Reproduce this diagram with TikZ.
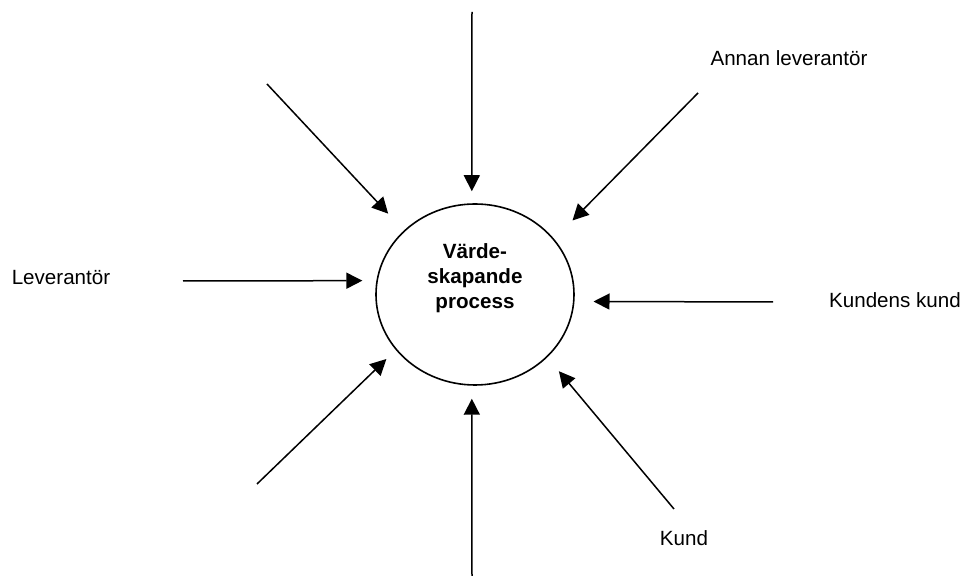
\documentclass[tikz,border=0pt]{standalone}
\usepackage{fontspec}
\setmainfont{Liberation Sans}
\usetikzlibrary{arrows.meta,shapes}
\tikzstyle{process}=[ellipse,draw,line width=0.8pt,minimum width=99pt,minimum height=90.5pt,inner sep=0pt]
\tikzstyle{flow} = [draw,line width=0.75pt,-{Triangle[length=8pt,width=8pt]}]
\tikzstyle{actor} = [font=\fontsize{10.3}{12.5}\selectfont,inner sep=0pt]
\tikzstyle{title} = [font=\fontsize{10.3}{12.5}\selectfont\bfseries,align=center,inner sep=0pt]

\begin{document}
\begin{tikzpicture}[x=0.5pt,y=-0.5pt]
    \useasboundingbox (0,0) rectangle (966,576);

    % the process in the middle
    \node[process] (proc) at (475,294.5) {};
    \node[title] (procname) at (475,278) {Värde-\\skapande\\process};

    % start points of the arrows
    \foreach \pos/ \name in {{(472,12)/n},{(267,84)/nw},{(698,93)/ne},{(183,281)/w},
                             {(773,302)/e},{(257,484)/sw},{(674,509)/se},{(472,576)/s}}
        \node[coordinate] (\name) at \pos {};

    % arrows pointing in, with angle on the ellipse and gap before it
    \foreach \source/ \ang/\gap in {n/92/12, nw/138.6/23, ne/35.8/26, w/172/14,
                                   e/356/19, sw/215.2/13, se/319.6/18, s/268/13}
        \path[flow, shorten >=\gap*0.5pt] (\source) -- (proc.\ang);

    \node[actor] (annan) at (789,58) {Annan leverantör};
    \node[actor] (lev) at (61,278) {Leverantör};
    \node[actor] (kk) at (895,300) {Kundens kund};
    \node[actor] (kund) at (684,538) {Kund};

\end{tikzpicture}
\end{document}
